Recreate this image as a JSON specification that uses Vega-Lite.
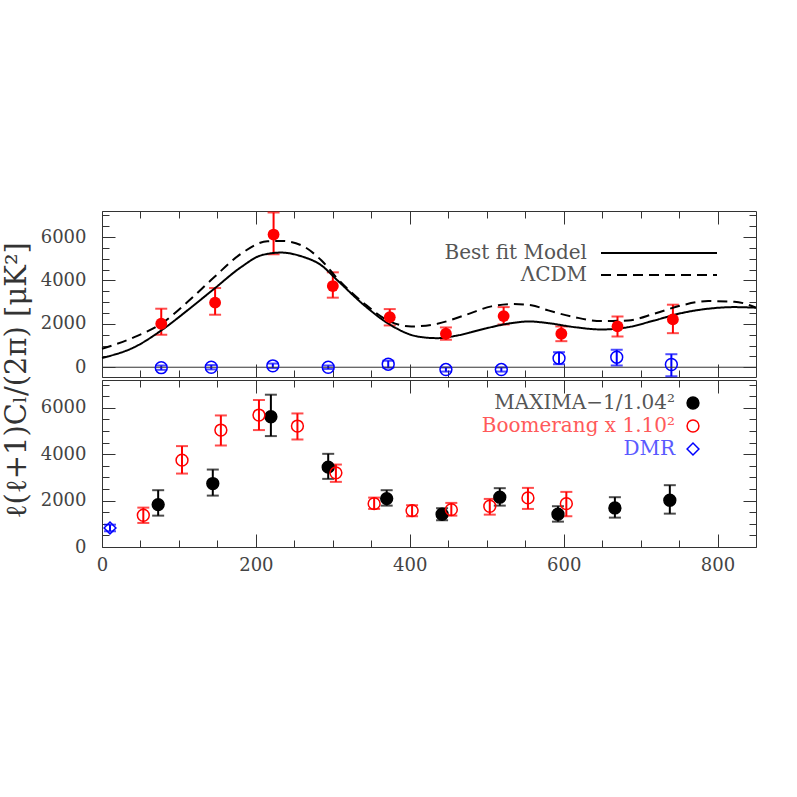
{
  "$schema": "https://vega.github.io/schema/vega-lite/v6.json",
  "background": "white",
  "padding": {"left": 2, "top": 210, "right": 0, "bottom": 0},
  "title": {"text": "ℓ(ℓ+1)Cₗ/(2π)  [μK²]", "orient": "left", "anchor": "middle", "font": "DejaVu Serif", "fontSize": 29, "fontWeight": "normal", "color": "#333", "offset": 8, "dx": 12},
  "config": {
    "view": {"stroke": "#333", "strokeWidth": 1},
    "axis": {"domain": false, "grid": false, "title": null, "labelFont": "DejaVu Serif", "labelFontSize": 18, "labelColor": "#444", "tickColor": "#333", "tickWidth": 1, "labelFlush": false},
    "concat": {"spacing": 0}
  },
  "datasets": {
    "points": [
      {"panel": "top", "series": "data", "l": 77, "cl": 2004, "lo": 1497, "hi": 2697},
      {"panel": "top", "series": "data", "l": 147, "cl": 2975, "lo": 2420, "hi": 3649},
      {"panel": "top", "series": "data", "l": 223, "cl": 6115, "lo": 5206, "hi": 7132},
      {"panel": "top", "series": "data", "l": 300, "cl": 3741, "lo": 3206, "hi": 4374},
      {"panel": "top", "series": "data", "l": 374, "cl": 2309, "lo": 1926, "hi": 2679},
      {"panel": "top", "series": "data", "l": 447, "cl": 1543, "lo": 1266, "hi": 1834},
      {"panel": "top", "series": "data", "l": 522, "cl": 2356, "lo": 1972, "hi": 2771},
      {"panel": "top", "series": "data", "l": 597, "cl": 1543, "lo": 1201, "hi": 1880},
      {"panel": "top", "series": "data", "l": 670, "cl": 1880, "lo": 1418, "hi": 2342},
      {"panel": "top", "series": "data", "l": 742, "cl": 2203, "lo": 1570, "hi": 2882},
      {"panel": "top", "series": "residual", "l": 77, "cl": -20, "lo": -120, "hi": 80},
      {"panel": "top", "series": "residual", "l": 142, "cl": 0, "lo": -100, "hi": 100},
      {"panel": "top", "series": "residual", "l": 222, "cl": 65, "lo": -40, "hi": 170},
      {"panel": "top", "series": "residual", "l": 294, "cl": 0, "lo": -80, "hi": 80},
      {"panel": "top", "series": "residual", "l": 372, "cl": 139, "lo": -20, "hi": 300},
      {"panel": "top", "series": "residual", "l": 447, "cl": -106, "lo": -200, "hi": -10},
      {"panel": "top", "series": "residual", "l": 519, "cl": -106, "lo": -200, "hi": -10},
      {"panel": "top", "series": "residual", "l": 594, "cl": 416, "lo": 139, "hi": 693},
      {"panel": "top", "series": "residual", "l": 669, "cl": 462, "lo": 79, "hi": 804},
      {"panel": "top", "series": "residual", "l": 740, "cl": 125, "lo": -416, "hi": 600},
      {"panel": "bottom", "series": "MAXIMA−1/1.04²", "l": 73, "cl": 1827, "lo": 1352, "hi": 2449},
      {"panel": "bottom", "series": "MAXIMA−1/1.04²", "l": 144, "cl": 2734, "lo": 2216, "hi": 3339},
      {"panel": "bottom", "series": "MAXIMA−1/1.04²", "l": 219.5, "cl": 5616, "lo": 4782, "hi": 6566},
      {"panel": "bottom", "series": "MAXIMA−1/1.04²", "l": 294, "cl": 3443, "lo": 2937, "hi": 4017},
      {"panel": "bottom", "series": "MAXIMA−1/1.04²", "l": 370, "cl": 2086, "lo": 1784, "hi": 2449},
      {"panel": "bottom", "series": "MAXIMA−1/1.04²", "l": 442, "cl": 1413, "lo": 1153, "hi": 1672},
      {"panel": "bottom", "series": "MAXIMA−1/1.04²", "l": 517, "cl": 2147, "lo": 1784, "hi": 2536},
      {"panel": "bottom", "series": "MAXIMA−1/1.04²", "l": 592.6, "cl": 1413, "lo": 1093, "hi": 1758},
      {"panel": "bottom", "series": "MAXIMA−1/1.04²", "l": 666.6, "cl": 1685, "lo": 1266, "hi": 2147},
      {"panel": "bottom", "series": "MAXIMA−1/1.04²", "l": 738, "cl": 2017, "lo": 1438, "hi": 2665},
      {"panel": "bottom", "series": "Boomerang x 1.10²", "l": 53.7, "cl": 1369, "lo": 1037, "hi": 1698},
      {"panel": "bottom", "series": "Boomerang x 1.10²", "l": 104, "cl": 3745, "lo": 3166, "hi": 4350},
      {"panel": "bottom", "series": "Boomerang x 1.10²", "l": 154.5, "cl": 5041, "lo": 4376, "hi": 5672},
      {"panel": "bottom", "series": "Boomerang x 1.10²", "l": 204, "cl": 5689, "lo": 5041, "hi": 6337},
      {"panel": "bottom", "series": "Boomerang x 1.10²", "l": 254, "cl": 5214, "lo": 4635, "hi": 5758},
      {"panel": "bottom", "series": "Boomerang x 1.10²", "l": 304, "cl": 3197, "lo": 2808, "hi": 3555},
      {"panel": "bottom", "series": "Boomerang x 1.10²", "l": 353.7, "cl": 1870, "lo": 1641, "hi": 2130},
      {"panel": "bottom", "series": "Boomerang x 1.10²", "l": 403, "cl": 1568, "lo": 1326, "hi": 1801},
      {"panel": "bottom", "series": "Boomerang x 1.10²", "l": 454, "cl": 1611, "lo": 1352, "hi": 1901},
      {"panel": "bottom", "series": "Boomerang x 1.10²", "l": 504, "cl": 1758, "lo": 1395, "hi": 2073},
      {"panel": "bottom", "series": "Boomerang x 1.10²", "l": 553.6, "cl": 2117, "lo": 1641, "hi": 2549},
      {"panel": "bottom", "series": "Boomerang x 1.10²", "l": 603.5, "cl": 1870, "lo": 1326, "hi": 2376},
      {"panel": "bottom", "series": "DMR", "l": 10.4, "cl": 821, "lo": 678, "hi": 963}
    ],
    "curves": [
      {"model": "Best fit Model", "l": 0, "cl": 430},
      {"model": "Best fit Model", "l": 42, "cl": 924},
      {"model": "Best fit Model", "l": 77, "cl": 1695},
      {"model": "Best fit Model", "l": 111, "cl": 2619},
      {"model": "Best fit Model", "l": 146, "cl": 3621},
      {"model": "Best fit Model", "l": 181, "cl": 4619},
      {"model": "Best fit Model", "l": 207, "cl": 5159},
      {"model": "Best fit Model", "l": 233, "cl": 5284},
      {"model": "Best fit Model", "l": 259, "cl": 5113},
      {"model": "Best fit Model", "l": 285, "cl": 4697},
      {"model": "Best fit Model", "l": 306, "cl": 4005},
      {"model": "Best fit Model", "l": 341, "cl": 2850},
      {"model": "Best fit Model", "l": 376, "cl": 1926},
      {"model": "Best fit Model", "l": 410, "cl": 1418},
      {"model": "Best fit Model", "l": 436, "cl": 1340},
      {"model": "Best fit Model", "l": 462, "cl": 1464},
      {"model": "Best fit Model", "l": 497, "cl": 1774},
      {"model": "Best fit Model", "l": 532, "cl": 2032},
      {"model": "Best fit Model", "l": 555, "cl": 2110},
      {"model": "Best fit Model", "l": 580, "cl": 2032},
      {"model": "Best fit Model", "l": 614, "cl": 1848},
      {"model": "Best fit Model", "l": 649, "cl": 1741},
      {"model": "Best fit Model", "l": 684, "cl": 1848},
      {"model": "Best fit Model", "l": 718, "cl": 2157},
      {"model": "Best fit Model", "l": 753, "cl": 2494},
      {"model": "Best fit Model", "l": 788, "cl": 2697},
      {"model": "Best fit Model", "l": 822, "cl": 2771},
      {"model": "Best fit Model", "l": 850, "cl": 2744},
      {"model": "ΛCDM", "l": 0, "cl": 850},
      {"model": "ΛCDM", "l": 42, "cl": 1386},
      {"model": "ΛCDM", "l": 77, "cl": 2004},
      {"model": "ΛCDM", "l": 111, "cl": 3002},
      {"model": "ΛCDM", "l": 146, "cl": 4157},
      {"model": "ΛCDM", "l": 181, "cl": 5238},
      {"model": "ΛCDM", "l": 215, "cl": 5806},
      {"model": "ΛCDM", "l": 233, "cl": 5820},
      {"model": "ΛCDM", "l": 259, "cl": 5621},
      {"model": "ΛCDM", "l": 285, "cl": 4928},
      {"model": "ΛCDM", "l": 306, "cl": 4083},
      {"model": "ΛCDM", "l": 341, "cl": 2928},
      {"model": "ΛCDM", "l": 376, "cl": 2078},
      {"model": "ΛCDM", "l": 402, "cl": 1880},
      {"model": "ΛCDM", "l": 436, "cl": 2004},
      {"model": "ΛCDM", "l": 471, "cl": 2388},
      {"model": "ΛCDM", "l": 506, "cl": 2804},
      {"model": "ΛCDM", "l": 535, "cl": 2910},
      {"model": "ΛCDM", "l": 558, "cl": 2860},
      {"model": "ΛCDM", "l": 580, "cl": 2619},
      {"model": "ΛCDM", "l": 614, "cl": 2309},
      {"model": "ΛCDM", "l": 649, "cl": 2125},
      {"model": "ΛCDM", "l": 684, "cl": 2157},
      {"model": "ΛCDM", "l": 718, "cl": 2466},
      {"model": "ΛCDM", "l": 753, "cl": 2850},
      {"model": "ΛCDM", "l": 788, "cl": 3048},
      {"model": "ΛCDM", "l": 822, "cl": 3021},
      {"model": "ΛCDM", "l": 850, "cl": 2744}
    ]
  },
  "spacing": 0,
  "resolve": {"scale": {"color": "independent", "shape": "independent", "strokeDash": "independent", "stroke": "independent", "fill": "independent"}},
  "vconcat": [
    {
      "width": 654,
      "height": 166,
      "data": {"name": "points"},
      "resolve": {"axis": {"x": "independent", "y": "independent"}},
      "layer": [
        {
          "transform": [{"filter": "datum.panel === 'top'"}],
          "mark": {"type": "rule", "strokeWidth": 2},
          "encoding": {
            "x": {"field": "l", "type": "quantitative", "scale": {"domain": [0, 850], "nice": false, "zero": false},
                  "axis": {"orient": "bottom", "values": [0,50,100,150,200,250,300,350,400,450,500,550,600,650,700,750,800], "labels": false, "tickSize": {"condition": {"test": "datum.value % 200 === 0", "value": -13}, "value": -7}}},
            "y": {"field": "lo", "type": "quantitative", "scale": {"domain": [-450, 7200], "nice": false, "zero": false},
                  "axis": {"orient": "left", "values": [0,500,1000,1500,2000,2500,3000,3500,4000,4500,5000,5500,6000,6500,7000], "format": "d", "labelExpr": "datum.value % 2000 === 0 ? datum.label : ''", "tickSize": {"condition": {"test": "datum.value % 2000 === 0", "value": -13}, "value": -7}, "labelPadding": 29}},
            "y2": {"field": "hi"},
            "color": {"field": "series", "type": "nominal", "scale": {"domain": ["data", "residual"], "range": ["#ff0000", "#0000ff"]}, "legend": null}
          }
        },
        {
          "transform": [{"filter": "datum.panel === 'top'"}],
          "mark": {"type": "tick", "orient": "horizontal", "size": 12, "thickness": 2},
          "encoding": {
            "x": {"field": "l", "type": "quantitative", "scale": {"domain": [0, 850], "nice": false, "zero": false},
                  "axis": {"orient": "top", "values": [0,50,100,150,200,250,300,350,400,450,500,550,600,650,700,750,800], "labels": false, "tickSize": {"condition": {"test": "datum.value % 200 === 0", "value": -13}, "value": -7}}},
            "y": {"field": "lo", "type": "quantitative", "scale": {"domain": [-450, 7200], "nice": false, "zero": false},
                  "axis": {"orient": "right", "values": [0,500,1000,1500,2000,2500,3000,3500,4000,4500,5000,5500,6000,6500,7000], "labels": false, "tickSize": {"condition": {"test": "datum.value % 2000 === 0", "value": -13}, "value": -7}}},
            "color": {"field": "series", "type": "nominal", "scale": {"domain": ["data", "residual"], "range": ["#ff0000", "#0000ff"]}, "legend": null}
          }
        },
        {
          "transform": [{"filter": "datum.panel === 'top'"}],
          "mark": {"type": "tick", "orient": "horizontal", "size": 12, "thickness": 2},
          "encoding": {
            "x": {"field": "l", "type": "quantitative", "scale": {"domain": [0, 850], "nice": false, "zero": false}, "axis": null},
            "y": {"field": "hi", "type": "quantitative", "scale": {"domain": [-450, 7200], "nice": false, "zero": false}, "axis": null},
            "color": {"field": "series", "type": "nominal", "scale": {"domain": ["data", "residual"], "range": ["#ff0000", "#0000ff"]}, "legend": null}
          }
        },
        {
          "data": {"values": [{"zero": 0}]},
          "mark": {"type": "rule", "color": "#333", "strokeWidth": 1},
          "encoding": {
            "y": {"field": "zero", "type": "quantitative", "scale": {"domain": [-450, 7200], "nice": false, "zero": false}, "axis": null}
          }
        },
        {
          "data": {"name": "curves"},
          "mark": {"type": "line", "color": "#000", "strokeWidth": 2, "interpolate": "monotone"},
          "encoding": {
            "x": {"field": "l", "type": "quantitative", "scale": {"domain": [0, 850], "nice": false, "zero": false}, "axis": null},
            "y": {"field": "cl", "type": "quantitative", "scale": {"domain": [-450, 7200], "nice": false, "zero": false}, "axis": null},
            "strokeDash": {"field": "model", "type": "nominal", "scale": {"domain": ["Best fit Model", "ΛCDM"], "range": [[1, 0], [10, 6]]},
              "legend": {"orient": "none", "legendX": 547, "legendY": 32, "title": null, "symbolType": "M-10,0H10", "symbolSize": 134.56, "symbolStrokeWidth": 2, "symbolStrokeColor": "#000", "symbolOpacity": 1, "labelFont": "DejaVu Serif", "labelFontSize": 20, "labelColor": "#555", "labelAlign": "right", "labelOffset": -82, "rowPadding": 2, "padding": 0, "labelLimit": 400}}
          }
        },
        {
          "transform": [{"filter": "datum.series === 'data'"}],
          "mark": {"type": "point", "filled": true, "size": 140, "color": "#ff0000", "opacity": 1},
          "encoding": {
            "x": {"field": "l", "type": "quantitative", "scale": {"domain": [0, 850], "nice": false, "zero": false}, "axis": null},
            "y": {"field": "cl", "type": "quantitative", "scale": {"domain": [-450, 7200], "nice": false, "zero": false}, "axis": null}
          }
        },
        {
          "transform": [{"filter": "datum.series === 'residual'"}],
          "mark": {"type": "point", "filled": false, "size": 140, "color": "#0000ff", "strokeWidth": 1.5, "opacity": 1},
          "encoding": {
            "x": {"field": "l", "type": "quantitative", "scale": {"domain": [0, 850], "nice": false, "zero": false}, "axis": null},
            "y": {"field": "cl", "type": "quantitative", "scale": {"domain": [-450, 7200], "nice": false, "zero": false}, "axis": null}
          }
        }
      ]
    },
    {
      "width": 654,
      "height": 167,
      "data": {"name": "points"},
      "transform": [{"filter": "datum.panel === 'bottom'"}],
      "resolve": {"axis": {"x": "independent", "y": "independent"}},
      "layer": [
        {
          "mark": {"type": "rule", "strokeWidth": 2},
          "encoding": {
            "x": {"field": "l", "type": "quantitative", "scale": {"domain": [0, 850], "nice": false, "zero": false},
                  "axis": {"orient": "bottom", "values": [0,50,100,150,200,250,300,350,400,450,500,550,600,650,700,750,800], "format": "d", "labelExpr": "datum.value % 200 === 0 ? datum.label : ''", "tickSize": {"condition": {"test": "datum.value % 200 === 0", "value": -13}, "value": -7}, "labelPadding": 22}},
            "y": {"field": "lo", "type": "quantitative", "scale": {"domain": [0, 7200], "nice": false, "zero": false},
                  "axis": {"orient": "left", "values": [0,500,1000,1500,2000,2500,3000,3500,4000,4500,5000,5500,6000,6500,7000], "format": "d", "labelExpr": "datum.value % 2000 === 0 ? datum.label : ''", "tickSize": {"condition": {"test": "datum.value % 2000 === 0", "value": -13}, "value": -7}, "labelPadding": 29}},
            "y2": {"field": "hi"},
            "color": {"field": "series", "type": "nominal", "scale": {"domain": ["DMR", "Boomerang x 1.10²", "MAXIMA−1/1.04²"], "range": ["#0000ff", "#ff0000", "#000000"]}, "legend": null}
          }
        },
        {
          "mark": {"type": "tick", "orient": "horizontal", "size": 12, "thickness": 2},
          "encoding": {
            "x": {"field": "l", "type": "quantitative", "scale": {"domain": [0, 850], "nice": false, "zero": false},
                  "axis": {"orient": "top", "values": [0,50,100,150,200,250,300,350,400,450,500,550,600,650,700,750,800], "labels": false, "tickSize": {"condition": {"test": "datum.value % 200 === 0", "value": -13}, "value": -7}}},
            "y": {"field": "lo", "type": "quantitative", "scale": {"domain": [0, 7200], "nice": false, "zero": false},
                  "axis": {"orient": "right", "values": [0,500,1000,1500,2000,2500,3000,3500,4000,4500,5000,5500,6000,6500,7000], "labels": false, "tickSize": {"condition": {"test": "datum.value % 2000 === 0", "value": -13}, "value": -7}}},
            "color": {"field": "series", "type": "nominal", "scale": {"domain": ["DMR", "Boomerang x 1.10²", "MAXIMA−1/1.04²"], "range": ["#0000ff", "#ff0000", "#000000"]}, "legend": null}
          }
        },
        {
          "mark": {"type": "tick", "orient": "horizontal", "size": 12, "thickness": 2},
          "encoding": {
            "x": {"field": "l", "type": "quantitative", "scale": {"domain": [0, 850], "nice": false, "zero": false}, "axis": null},
            "y": {"field": "hi", "type": "quantitative", "scale": {"domain": [0, 7200], "nice": false, "zero": false}, "axis": null},
            "color": {"field": "series", "type": "nominal", "scale": {"domain": ["DMR", "Boomerang x 1.10²", "MAXIMA−1/1.04²"], "range": ["#0000ff", "#ff0000", "#000000"]}, "legend": null}
          }
        },
        {
          "mark": {"type": "point", "size": 140, "strokeWidth": 1.5, "opacity": 1},
          "encoding": {
            "x": {"field": "l", "type": "quantitative", "scale": {"domain": [0, 850], "nice": false, "zero": false}, "axis": null},
            "y": {"field": "cl", "type": "quantitative", "scale": {"domain": [0, 7200], "nice": false, "zero": false}, "axis": null},
            "shape": {"field": "series", "type": "nominal", "scale": {"domain": ["MAXIMA−1/1.04²", "Boomerang x 1.10²", "DMR"], "range": ["circle", "circle", "diamond"]},
              "legend": {"orient": "none", "legendX": 581, "legendY": 13, "title": null, "symbolSize": 140, "symbolStrokeWidth": 1.5, "labelFont": "DejaVu Serif", "labelFontSize": 20, "labelAlign": "right", "labelOffset": -28, "rowPadding": 3, "padding": 0, "labelLimit": 400,
                "labelColor": {"expr": "datum.value === 'DMR' ? '#5a5aff' : (datum.value === 'Boomerang x 1.10²' ? '#ff5a5a' : '#555555')"}}},
            "fill": {"field": "series", "type": "nominal", "scale": {"domain": ["MAXIMA−1/1.04²", "Boomerang x 1.10²", "DMR"], "range": ["#000000", "transparent", "transparent"]},
              "legend": {"orient": "none", "legendX": 581, "legendY": 13, "title": null, "symbolSize": 140, "symbolStrokeWidth": 1.5, "labelFont": "DejaVu Serif", "labelFontSize": 20, "labelAlign": "right", "labelOffset": -28, "rowPadding": 3, "padding": 0, "labelLimit": 400,
                "labelColor": {"expr": "datum.value === 'DMR' ? '#5a5aff' : (datum.value === 'Boomerang x 1.10²' ? '#ff5a5a' : '#555555')"}}},
            "stroke": {"field": "series", "type": "nominal", "scale": {"domain": ["MAXIMA−1/1.04²", "Boomerang x 1.10²", "DMR"], "range": ["#000000", "#ff0000", "#0000ff"]},
              "legend": {"orient": "none", "legendX": 581, "legendY": 13, "title": null, "symbolSize": 140, "symbolStrokeWidth": 1.5, "labelFont": "DejaVu Serif", "labelFontSize": 20, "labelAlign": "right", "labelOffset": -28, "rowPadding": 3, "padding": 0, "labelLimit": 400,
                "labelColor": {"expr": "datum.value === 'DMR' ? '#5a5aff' : (datum.value === 'Boomerang x 1.10²' ? '#ff5a5a' : '#555555')"}}}
          }
        }
      ]
    }
  ]
}
